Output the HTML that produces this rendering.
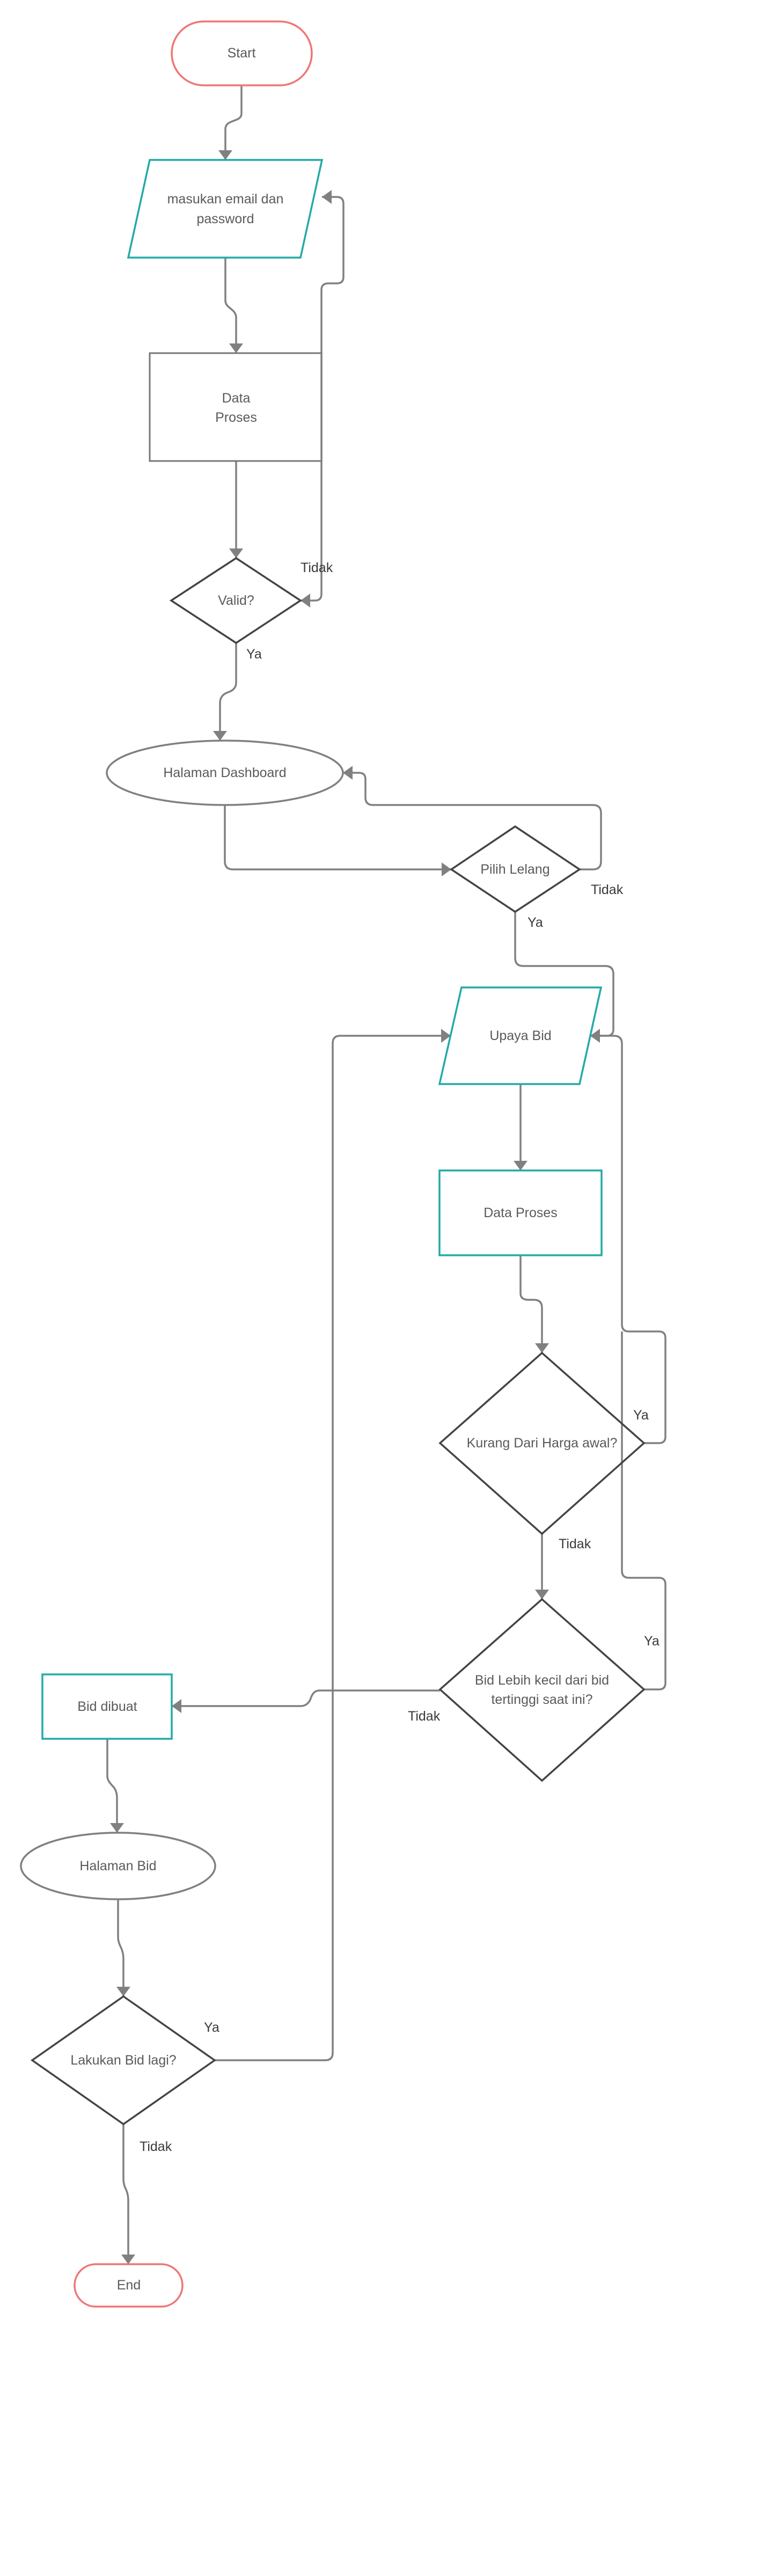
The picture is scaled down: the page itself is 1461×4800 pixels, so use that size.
<!DOCTYPE html>
<html><head><meta charset="utf-8"><style>
html,body{margin:0;padding:0;background:#fff;}
svg{display:block;}
text{font-family:"Liberation Sans","DejaVu Sans",sans-serif;font-size:25px;fill:#5a5a5a;text-anchor:middle;dominant-baseline:central;}
.lbl{fill:#3a3a3a;text-anchor:start;}
.c{fill:none;stroke:#808080;stroke-width:3.5;stroke-linejoin:round;}
</style></head><body>
<svg width="1461" height="4800" viewBox="0 0 1461 4800" xmlns="http://www.w3.org/2000/svg">
<defs>
<marker id="a" markerUnits="userSpaceOnUse" markerWidth="20" markerHeight="28" refX="18" refY="13" orient="auto-start-reverse">
<path d="M0,0 L18,13 L0,26 z" fill="#808080"/>
</marker>
</defs>
<rect width="1461" height="4800" fill="#fff"/>

<!-- connectors -->
<g class="c" marker-end="url(#a)">
<path d="M450 159 V212 C450 228 420 222 420 240 V298"/>
<path d="M420 480 V560 C420 575 440 575 440 592 V658"/>
<path d="M440 859 V1040"/>
<path d="M560 1119 H587 Q599 1119 599 1107 V540 Q599 528 612 528 H628 Q640 528 640 516 V380 Q640 367 628 367 H600" marker-start="url(#a)"/>
<path d="M440 1198 V1272 Q440 1285 425 1290 Q410 1295 410 1310 V1380"/>
<path d="M419 1500 V1605 Q419 1620 434 1620 H841"/>
<path d="M1080 1620 H1105 Q1120 1620 1120 1605 V1515 Q1120 1500 1105 1500 H695 Q681 1500 681 1486 V1452 Q681 1440 669 1440 H639"/>
<path d="M960 1699 V1785 Q960 1800 975 1800 H1128 Q1143 1800 1143 1815 V1918 Q1143 1930 1131 1930 H1100"/>
<path d="M1200 2689 H1228 Q1240 2689 1240 2677 V2493 Q1240 2481 1228 2481 H1172 Q1159 2481 1159 2468 V1945 Q1159 1930 1144 1930 H1100"/>
<path d="M970 2020 V2181"/>
<path d="M970 2339 V2410 Q970 2422 985 2422 H995 Q1010 2422 1010 2437 V2521"/>
<path d="M1010 2858 V2980"/>
<path d="M820 3150 H595 Q585 3150 580 3162 Q575 3179 560 3179 H320"/>
<path d="M200 3240 V3310 Q200 3318 210 3328 Q218 3336 218 3350 V3415"/>
<path d="M220 3539 V3610 Q220 3618 225 3628 Q230 3638 230 3650 V3720"/>
<path d="M400 3839 H606 Q620 3839 620 3825 V1944 Q620 1930 634 1930 H840"/>
<path d="M230 3958 V4060 Q230 4070 234 4078 Q239 4088 239 4100 V4219"/>
</g>
<path class="c" d="M1200 3148 H1228 Q1240 3148 1240 3136 V2952 Q1240 2940 1228 2940 H1172 Q1159 2940 1159 2927 V2481"/>

<!-- shapes -->
<rect x="320" y="40" width="261" height="119" rx="59.5" fill="#fff" stroke="#f07575" stroke-width="3.5"/>
<text x="450" y="99">Start</text>

<polygon points="279,298 600,298 560,480 239,480" fill="#fff" stroke="#22aaa8" stroke-width="3.5"/>
<text x="420" y="371">masukan email dan</text>
<text x="420" y="408">password</text>

<rect x="279" y="658" width="320" height="201" fill="#fff" stroke="#777" stroke-width="3"/>
<text x="440" y="742">Data</text>
<text x="440" y="778">Proses</text>
<line x1="599" y1="658" x2="599" y2="859" stroke="#808080" stroke-width="3.5"/>

<polygon points="440,1040 560,1119 440,1198 319,1119" fill="#fff" stroke="#444" stroke-width="3.5"/>
<text x="440" y="1119">Valid?</text>

<ellipse cx="419" cy="1440" rx="220" ry="60" fill="#fff" stroke="#808080" stroke-width="3.5"/>
<text x="419" y="1440">Halaman Dashboard</text>

<polygon points="960,1540 1080,1620 960,1699 841,1620" fill="#fff" stroke="#444" stroke-width="3.5"/>
<text x="960" y="1620">Pilih Lelang</text>

<polygon points="860,1840 1120,1840 1080,2020 819,2020" fill="#fff" stroke="#22aaa8" stroke-width="3.5"/>
<text x="970" y="1930">Upaya Bid</text>

<rect x="819" y="2181" width="302" height="158" fill="#fff" stroke="#22aaa8" stroke-width="3.5"/>
<text x="970" y="2260">Data Proses</text>

<polygon points="1010,2521 1200,2689 1010,2858 820,2689" fill="none" stroke="#444" stroke-width="3.5"/>
<text x="1010" y="2689">Kurang Dari Harga awal?</text>

<polygon points="1010,2980 1200,3148 1010,3318 820,3148" fill="none" stroke="#444" stroke-width="3.5"/>
<text x="1010" y="3131">Bid Lebih kecil dari bid</text>
<text x="1010" y="3167">tertinggi saat ini?</text>

<rect x="79" y="3120" width="241" height="120" fill="#fff" stroke="#22aaa8" stroke-width="3.5"/>
<text x="200" y="3180">Bid dibuat</text>

<ellipse cx="220" cy="3477" rx="181" ry="62" fill="#fff" stroke="#808080" stroke-width="3.5"/>
<text x="220" y="3477">Halaman Bid</text>

<polygon points="230,3720 400,3839 230,3958 60,3839" fill="#fff" stroke="#444" stroke-width="3.5"/>
<text x="230" y="3839">Lakukan Bid lagi?</text>

<rect x="139" y="4219" width="201" height="79" rx="39.5" fill="#fff" stroke="#f07575" stroke-width="3.5"/>
<text x="240" y="4258">End</text>

<!-- labels -->
<text class="lbl" x="560" y="1058">Tidak</text>
<text class="lbl" x="459" y="1219">Ya</text>
<text class="lbl" x="1101" y="1658">Tidak</text>
<text class="lbl" x="983" y="1719">Ya</text>
<text class="lbl" x="1180" y="2637">Ya</text>
<text class="lbl" x="1041" y="2877">Tidak</text>
<text class="lbl" x="1200" y="3058">Ya</text>
<text class="lbl" x="760" y="3198">Tidak</text>
<text class="lbl" x="380" y="3778">Ya</text>
<text class="lbl" x="260" y="4000">Tidak</text>
</svg>
</body></html>
